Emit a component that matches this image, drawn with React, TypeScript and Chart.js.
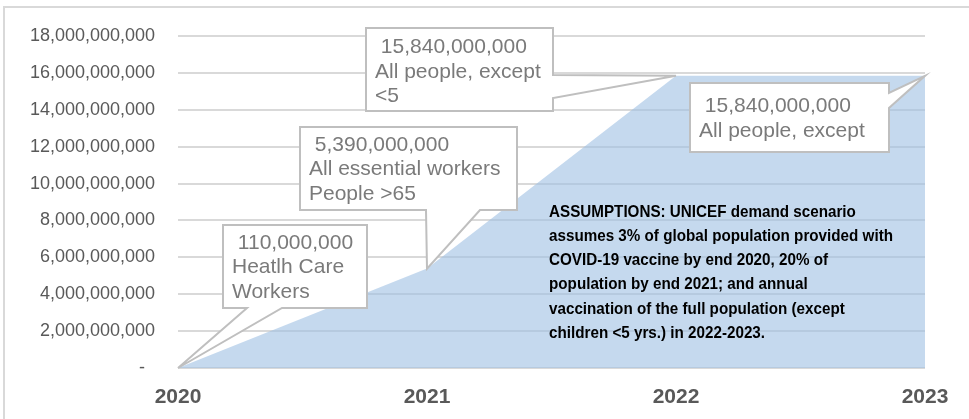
import React, { useEffect, useRef } from 'react';
import { Chart, registerables } from 'chart.js';

Chart.register(...registerables);

// ---- data ----
const years = ['2020', '2021', '2022', '2023'];
const doses = [0, 5390000000, 15840000000, 15840000000];
const yMin = 0;
const yMax = 18000000000;
const yStep = 2000000000;

const calloutTexts = [
  [' 110,000,000', 'Heatlh Care', 'Workers'],
  [' 5,390,000,000', 'All essential workers', 'People >65'],
  [' 15,840,000,000', 'All people, except', '<5'],
  [' 15,840,000,000', 'All people, except'],
];
const calloutTargets = [0, 1, 2, 3];

const assumptionLines = [
  'ASSUMPTIONS: UNICEF demand scenario',
  'assumes 3% of global population provided with',
  'COVID-19 vaccine by end 2020, 20% of',
  'population by end 2021; and annual',
  'vaccination of the full population (except',
  'children <5 yrs.) in 2022-2023.',
];

// ---- layout (pixels relative to chart area top-left; tail a/z relative to box edge start) ----
type Box = { l: number; t: number; r: number; b: number; edge: 'bottom' | 'right'; a: number; z: number; textTop: number };
const calloutBoxes: Box[] = [
  { l: 45, t: 189, r: 189, b: 272, edge: 'bottom', a: 24, z: 59, textTop: 18 },
  { l: 122, t: 91, r: 339, b: 174, edge: 'bottom', a: 126, z: 180, textTop: 18 },
  { l: 188, t: -8, r: 375, b: 75, edge: 'right', a: 47, z: 70, textTop: 19.5 },
  { l: 512, t: 47, r: 711, b: 116, edge: 'right', a: 10, z: 25, textTop: 23.5 },
];

const CALLOUT_FONT = '21px "Liberation Sans", Arial, sans-serif';
const LINE_STEP = 24.6;
const NOTE_FONT = 'bold 16.5px "Liberation Sans", Arial, sans-serif';
const NOTE_REF_WIDTH = 344; // width of the longest note line

const annotPlugin = {
  id: 'annot',
  beforeDraw(chart: any) {
    const ctx = chart.ctx;
    ctx.save();
    ctx.strokeStyle = '#d9d9d9';
    ctx.lineWidth = 2;
    ctx.strokeRect(4, 7, 1200, 1200);
    ctx.restore();
  },
  afterDatasetsDraw(chart: any) {
    const ctx = chart.ctx;
    const ca = chart.chartArea;
    const xs = chart.scales.x;
    const ys = chart.scales.y;
    ctx.save();
    calloutBoxes.forEach((bx, i) => {
      const idx = calloutTargets[i];
      const tx = xs.getPixelForValue(idx);
      const ty = ys.getPixelForValue(doses[idx]);
      const L = ca.left + bx.l, T = ca.top + bx.t, R = ca.left + bx.r, B = ca.top + bx.b;
      ctx.beginPath();
      if (bx.edge === 'bottom') {
        ctx.moveTo(L, T);
        ctx.lineTo(R, T);
        ctx.lineTo(R, B);
        ctx.lineTo(L + bx.z, B);
        ctx.lineTo(tx, ty);
        ctx.lineTo(L + bx.a, B);
        ctx.lineTo(L, B);
      } else {
        ctx.moveTo(L, T);
        ctx.lineTo(R, T);
        ctx.lineTo(R, T + bx.a);
        ctx.lineTo(tx, ty);
        ctx.lineTo(R, T + bx.z);
        ctx.lineTo(R, B);
        ctx.lineTo(L, B);
      }
      ctx.closePath();
      ctx.fillStyle = '#ffffff';
      ctx.fill();
      ctx.strokeStyle = '#bfbfbf';
      ctx.lineWidth = 2;
      ctx.lineJoin = 'miter';
      ctx.stroke();

      ctx.fillStyle = '#7a7a7a';
      ctx.font = CALLOUT_FONT;
      ctx.textAlign = 'left';
      ctx.textBaseline = 'middle';
      calloutTexts[i].forEach((line, k) => {
        ctx.fillText(line, L + 9, T + bx.textTop + k * LINE_STEP);
      });
    });

    // assumptions note (narrow bold text)
    ctx.font = NOTE_FONT;
    const widest = Math.max(...assumptionLines.map((s) => ctx.measureText(s).width));
    const sx = NOTE_REF_WIDTH / widest;
    ctx.fillStyle = '#000000';
    ctx.textAlign = 'left';
    ctx.textBaseline = 'middle';
    const nx = ca.left + 371;
    const ny = ca.top + 176;
    ctx.translate(nx, ny);
    ctx.scale(sx, 1);
    assumptionLines.forEach((line, k) => {
      ctx.fillText(line, 0, k * 24.3);
    });
    ctx.restore();
  },
};

export default function App() {
  const ref = useRef<HTMLCanvasElement | null>(null);
  useEffect(() => {
    if (!ref.current) return;
    const chart = new Chart(ref.current, {
      type: 'line',
      data: {
        labels: years,
        datasets: [
          {
            data: doses,
            fill: 'origin',
            backgroundColor: 'rgba(158,192,227,0.6)',
            borderWidth: 0,
            pointRadius: 0,
            tension: 0,
          },
        ],
      },
      options: {
        animation: false,
        responsive: false,
        maintainAspectRatio: false,
        layout: { padding: { left: 0, right: 44, top: 36, bottom: 0 } },
        plugins: { legend: { display: false }, tooltip: { enabled: false } },
        scales: {
          x: {
            offset: false,
            grid: { display: false, drawTicks: false },
            border: { display: false },
            ticks: {
              padding: 17,
              color: '#595959',
              font: { family: '"Liberation Sans", Arial, sans-serif', size: 21, weight: 'bold' },
              maxRotation: 0,
            },
            afterFit(scale: any) {
              scale.height = 51;
            },
          },
          y: {
            min: yMin,
            max: yMax,
            grid: { color: '#d9d9d9', lineWidth: 2, drawTicks: false },
            border: { display: false },
            ticks: {
              stepSize: yStep,
              padding: 23,
              color: '#595959',
              font: { family: '"Liberation Sans", Arial, sans-serif', size: 18 },
              callback: (v: any) => (Number(v) === 0 ? '-  ' : Number(v).toLocaleString('en-US')),
            },
            afterFit(scale: any) {
              scale.width = 178;
            },
          },
        },
      },
      plugins: [annotPlugin],
    });
    return () => chart.destroy();
  }, []);
  return (
    <div style={{ position: 'fixed', left: 0, top: 0, width: 969, height: 419, background: '#fff' }}>
      <canvas ref={ref} width={969} height={419} style={{ width: 969, height: 419, display: 'block' }} />
    </div>
  );
}
